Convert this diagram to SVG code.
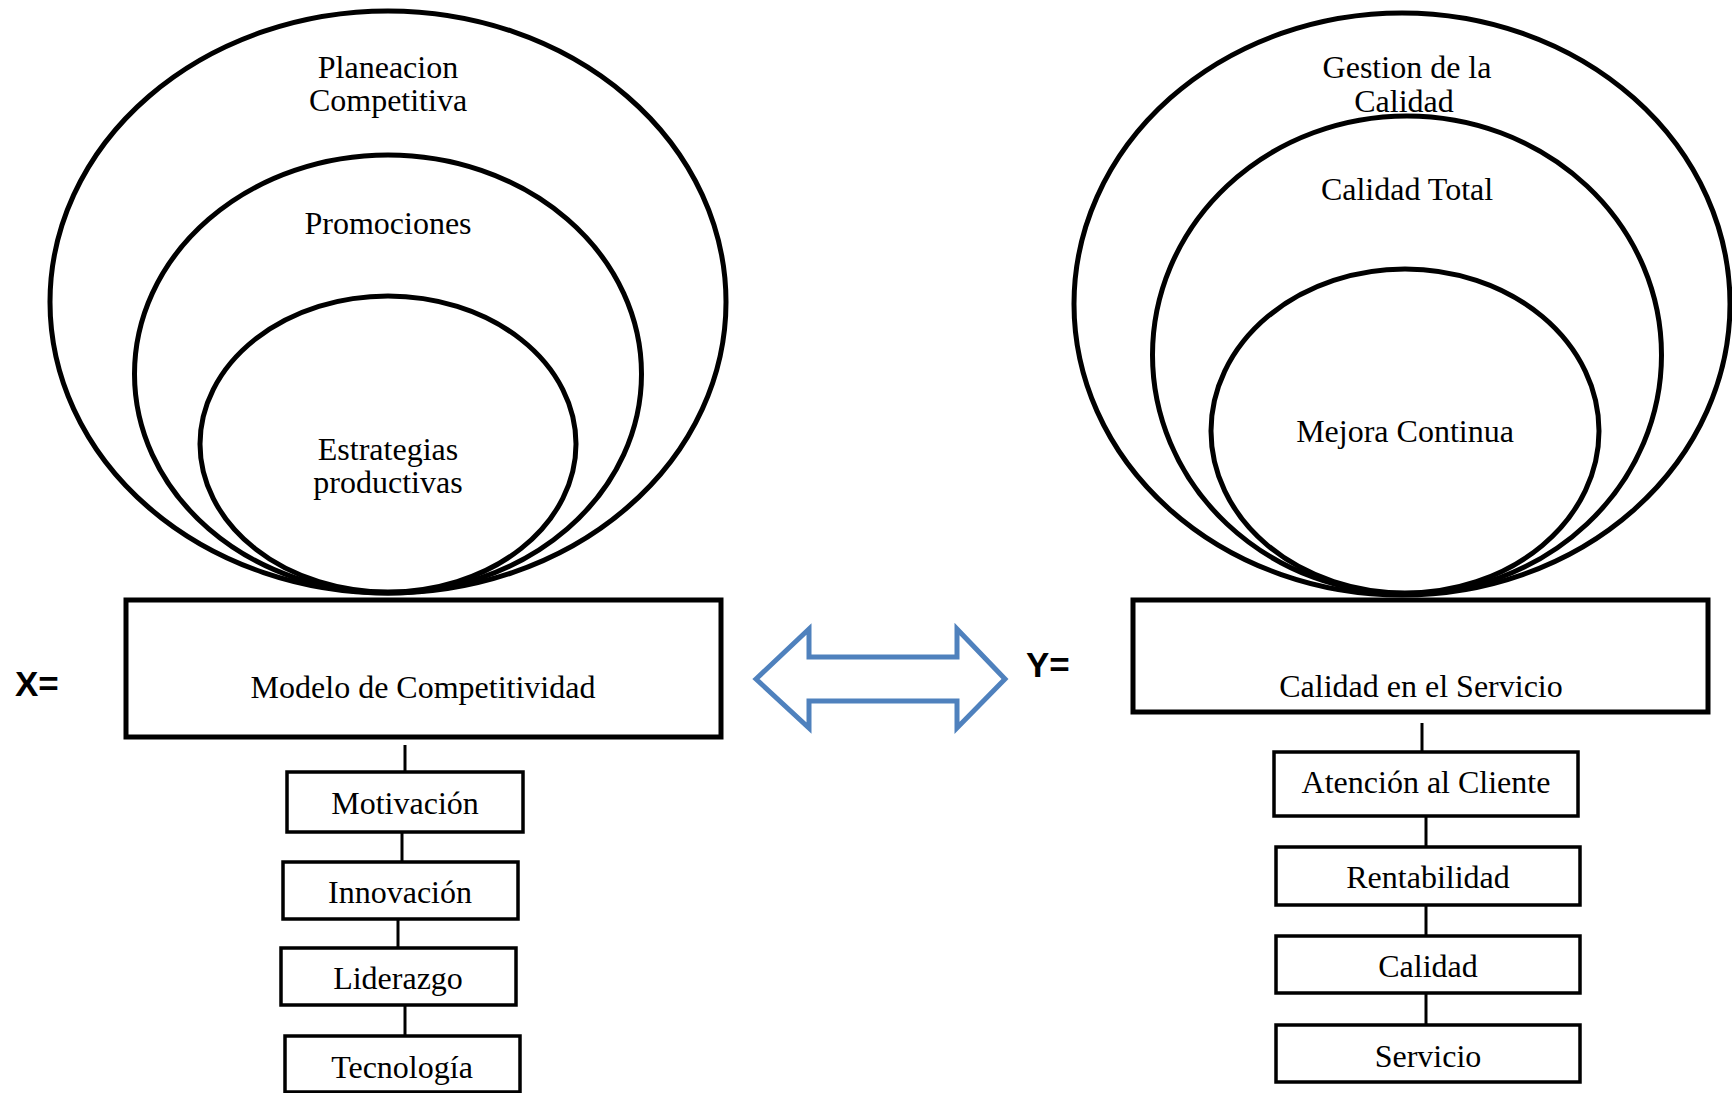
<svg xmlns="http://www.w3.org/2000/svg" width="1732" height="1093" viewBox="0 0 1732 1093">
<style>
.ell{fill:none;stroke:#000;stroke-width:5}
.main{fill:#fff;stroke:#000;stroke-width:5}
.box{fill:#fff;stroke:#000;stroke-width:3.5}
.t{font-family:"Liberation Serif","Times New Roman",serif;font-size:32px;fill:#000;text-anchor:middle}
.lbl{font-family:"Liberation Sans",Arial,sans-serif;font-size:35px;font-weight:bold;fill:#000}
.con{stroke:#000;stroke-width:3;fill:none}
</style>
<rect width="1732" height="1093" fill="#fff"/>
<g id="left-circles">
<g id="planeacion"><ellipse class="ell" cx="388" cy="302" rx="338" ry="291"/>
<text class="t" x="388" y="78">Planeacion</text><text class="t" x="388" y="111">Competitiva</text></g>
<g id="promociones"><ellipse class="ell" cx="388" cy="374" rx="253.5" ry="219"/>
<text class="t" x="388" y="234">Promociones</text></g>
<g id="estrategias"><ellipse class="ell" cx="388" cy="444" rx="188" ry="148"/>
<text class="t" x="388" y="460">Estrategias</text><text class="t" x="388" y="493">productivas</text></g>
</g>
<g id="right-circles">
<g id="gestion"><ellipse class="ell" cx="1402" cy="304" rx="328" ry="291"/>
<text class="t" x="1407" y="78">Gestion de la</text><text class="t" x="1404" y="112">Calidad</text></g>
<g id="calidad-total"><ellipse class="ell" cx="1407" cy="355" rx="254.5" ry="239"/>
<text class="t" x="1407" y="200">Calidad Total</text></g>
<g id="mejora"><ellipse class="ell" cx="1405" cy="431" rx="194" ry="162"/>
<text class="t" x="1405" y="442">Mejora Continua</text></g>
</g>
<g id="connectors">
<line class="con" x1="405" y1="745" x2="405" y2="772"/>
<line class="con" x1="402" y1="832" x2="402" y2="862"/>
<line class="con" x1="398" y1="919" x2="398" y2="948"/>
<line class="con" x1="405" y1="1005" x2="405" y2="1036"/>
<line class="con" x1="1422" y1="723" x2="1422" y2="752"/>
<line class="con" x1="1426" y1="816" x2="1426" y2="847"/>
<line class="con" x1="1426" y1="905" x2="1426" y2="936"/>
<line class="con" x1="1426" y1="993" x2="1426" y2="1025"/>
<path id="double-arrow" d="M756,679 L809,629 L809,657 L957,657 L957,629 L1005,679 L957,728 L957,701 L809,701 L809,728 Z" fill="#fff" stroke="#4F81BD" stroke-width="5" stroke-linejoin="miter"/>
</g>
<g id="x-label"><text class="lbl" x="15" y="696">X=</text></g>
<g id="y-label"><text class="lbl" x="1026" y="677">Y=</text></g>
<g id="modelo"><rect class="main" x="126" y="600" width="595" height="137"/>
<text class="t" x="423" y="698">Modelo de Competitividad</text></g>
<g id="motivacion"><rect class="box" x="287" y="772" width="236" height="60"/>
<text class="t" x="405" y="814">Motivación</text></g>
<g id="innovacion"><rect class="box" x="283" y="862" width="235" height="57"/>
<text class="t" x="400" y="903">Innovación</text></g>
<g id="liderazgo"><rect class="box" x="281" y="948" width="235" height="57"/>
<text class="t" x="398" y="989">Liderazgo</text></g>
<g id="tecnologia"><rect class="box" x="285" y="1036" width="235" height="56"/>
<text class="t" x="402" y="1078">Tecnología</text></g>
<g id="calidad-servicio"><rect class="main" x="1133" y="600" width="575" height="112"/>
<text class="t" x="1421" y="697">Calidad en el Servicio</text></g>
<g id="atencion"><rect class="box" x="1274" y="752" width="304" height="64"/>
<text class="t" x="1426" y="793">Atención al Cliente</text></g>
<g id="rentabilidad"><rect class="box" x="1276" y="847" width="304" height="58"/>
<text class="t" x="1428" y="888">Rentabilidad</text></g>
<g id="calidad"><rect class="box" x="1276" y="936" width="304" height="57"/>
<text class="t" x="1428" y="977">Calidad</text></g>
<g id="servicio"><rect class="box" x="1276" y="1025" width="304" height="57"/>
<text class="t" x="1428" y="1067">Servicio</text></g>
</svg>
